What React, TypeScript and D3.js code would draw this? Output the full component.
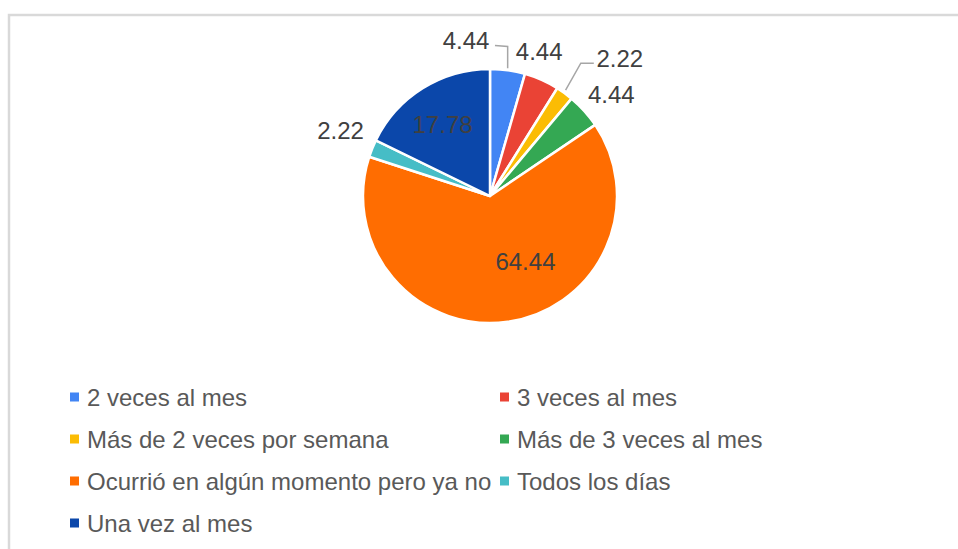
import * as d3 from 'd3';

const categories = [
  '2 veces al mes',
  '3 veces al mes',
  'Más de 2 veces por semana',
  'Más de 3 veces al mes',
  'Ocurrió en algún momento pero ya no',
  'Todos los días',
  'Una vez al mes',
];
const values = [4.44, 4.44, 2.22, 4.44, 64.44, 2.22, 17.78];
const valueLabels = ['4.44', '4.44', '2.22', '4.44', '64.44', '2.22', '17.78'];
const colors = ['#4285F4', '#EA4335', '#FBBC04', '#34A853', '#FF6D01', '#46BDC6', '#0B47AA'];

// label placement tweaks (Sheets moves crowded labels around)
const labelNudge: Record<string, [number, number]> = {
  '2 veces al mes': [-46, 1],
  '3 veces al mes': [-15, 0],
  'Más de 2 veces por semana': [37, -10],
  'Más de 3 veces al mes': [4, 4],
  'Ocurrió en algún momento pero ya no': [24, -16],
  'Todos los días': [-3, -6],
  'Una vez al mes': [-4, -2],
};
const insideLabels = ['Ocurrió en algún momento pero ya no', 'Una vez al mes'];

export default function App() {
  const width = 958;
  const height = 549;
  const cx = 490;
  const cy = 196;
  const radius = 127;

  const rows = categories.map((c, i) => ({ name: c, value: values[i], label: valueLabels[i], color: colors[i] }));
  const pie = d3.pie<any>().sort(null).value(d => d.value);
  const arcs = pie(rows);
  const arc = d3.arc<any>().innerRadius(0).outerRadius(radius);
  const outerLabelArc = d3.arc<any>().innerRadius(158).outerRadius(158);
  const innerLabelArc = d3.arc<any>().innerRadius(82).outerRadius(82);
  const edgeArc = d3.arc<any>().innerRadius(radius).outerRadius(radius);

  const font = '"Liberation Sans", Arial, sans-serif';

  const legendCol = d3.scaleOrdinal<number, number>().domain([0, 1]).range([70, 500]);
  const legendRow = (i: number) => 397 + Math.floor(i / 2) * 42;

  return (
    <svg width={width} height={height} style={{ position: 'absolute', left: 0, top: 0 }}>
      <rect x={0} y={0} width={width} height={height} fill="#fff" />
      <rect x={9} y={15} width={width + 20} height={height + 20} fill="none" stroke="#d9d9d9" strokeWidth={2.5} />
      <g transform={`translate(${cx},${cy})`}>
        {arcs.map((a, i) => (
          <path key={i} d={arc(a) as string} fill={a.data.color} stroke="#fff" strokeWidth={2.5} strokeLinejoin="round" />
        ))}
        {arcs.map((a, i) => {
          const inside = insideLabels.includes(a.data.name);
          const [bx, by] = inside ? innerLabelArc.centroid(a) : outerLabelArc.centroid(a);
          const [nx, ny] = labelNudge[a.data.name] || [0, 0];
          const x = bx + nx;
          const y = by + ny;
          const [ex, ey] = edgeArc.centroid(a);
          let leader: string | null = null;
          if (a.data.name === '2 veces al mes') {
            leader = `M${ex},${ey - 2}L${ex},${y + 6}L${x + 29},${y + 5}`;
          } else if (a.data.name === 'Más de 2 veces por semana') {
            leader = `M${ex + 1},${ey - 3}L${x - 39},${y + 5}L${x - 26},${y + 5}`;
          }
          return (
            <g key={'l' + i}>
              {leader && <path d={leader} fill="none" stroke="#a6a6a6" strokeWidth={1.5} />}
              <text
                x={x}
                y={y}
                textAnchor="middle"
                dominantBaseline="central"
                fontFamily={font}
                fontSize={24}
                fill="#404040"
              >
                {a.data.label}
              </text>
            </g>
          );
        })}
      </g>
      <g>
        {rows.map((r, i) => {
          const x = legendCol(i % 2);
          const y = legendRow(i);
          return (
            <g key={'lg' + i}>
              <rect x={x} y={y - 4.5} width={9} height={9} fill={r.color} />
              <text x={x + 17} y={y} dominantBaseline="central" fontFamily={font} fontSize={24} fill="#595959">
                {r.name}
              </text>
            </g>
          );
        })}
      </g>
    </svg>
  );
}
